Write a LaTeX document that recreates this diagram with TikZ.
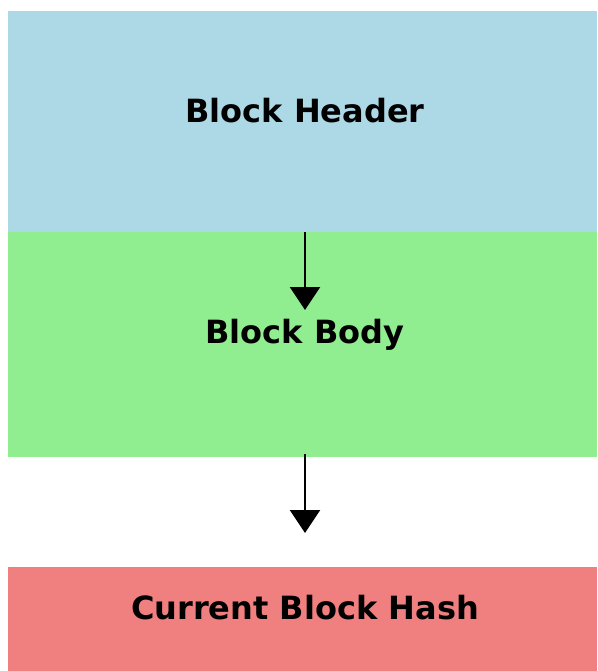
\documentclass[tikz,border=0pt]{standalone}
\usepackage{fontspec}
\setmainfont{DejaVu Sans}
\usetikzlibrary{arrows.meta}
\usetikzlibrary{positioning}

\definecolor{hdrblue}{RGB}{173,216,230}
\definecolor{bodygreen}{RGB}{144,238,144}
\definecolor{hashred}{RGB}{240,128,128}

\tikzset{
 blocktxt/.style={font=\fontsize{32}{38}\selectfont\bfseries, inner sep=0, anchor=base},
 flow/.style={black, line width=2.5pt, -{Triangle[width=30pt,length=23pt]}}
}

\begin{document}
\begin{tikzpicture} [x=1pt,y=-1pt]
\useasboundingbox (0,0) rectangle (597,671);
\fill[hdrblue] (8,11) rectangle (597,232);
\fill[bodygreen] (8,232) rectangle (597,457);
\fill[hashred] (8,567) rectangle (597,671);
\coordinate (header) at (305,232);
\coordinate (body) at (305,454);
\node[blocktxt] (headertxt) at (305,122.5) {Block Header};
\node[blocktxt] (bodytxt) at (305,343.5) {Block Body};
\node[blocktxt] (hashtxt) at (305,619.5) {Current Block Hash};
\coordinate (tip1) at (305,310);
\coordinate (tip2) at (305,533);
\draw[flow] (header)--(tip1);
\draw[flow] (body)--(tip2);
\end{tikzpicture}
\end{document}
